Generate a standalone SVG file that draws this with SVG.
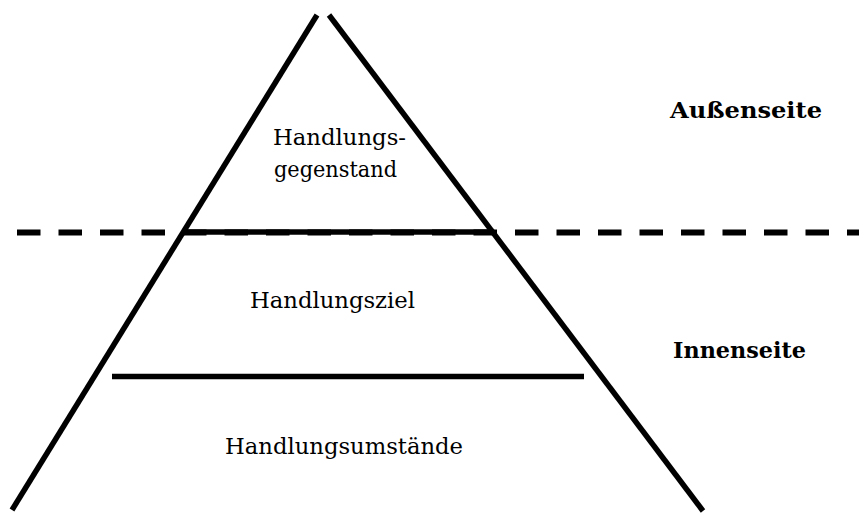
<svg xmlns="http://www.w3.org/2000/svg" width="859" height="517" viewBox="0 0 859 517">
<style>
.ln{stroke:#000;stroke-width:5.5;fill:none;stroke-linecap:butt}
.dash{stroke:#000;stroke-width:6;fill:none;stroke-dasharray:23.5 18}
.t{font-family:"DejaVu Serif","Liberation Serif",serif;font-size:22.5px;fill:#000}
.b{font-family:"DejaVu Serif","Liberation Serif",serif;font-size:22.5px;font-weight:bold;fill:#000}
</style>
<rect width="859" height="517" fill="#fff"/>
<g id="connectors">
<line class="dash" x1="17" y1="232.5" x2="859" y2="232.5"/>
<line class="ln" x1="317" y1="15" x2="12" y2="510"/>
<line class="ln" x1="329" y1="15" x2="703" y2="511"/>
<line class="ln" x1="183" y1="232" x2="493" y2="232"/>
<line class="ln" x1="112" y1="376.5" x2="584" y2="376.5"/>
</g>
<g id="node-gegenstand">
<text class="t" x="273" y="145" textLength="133" lengthAdjust="spacingAndGlyphs">Handlungs-</text>
<text class="t" x="274" y="177" textLength="123" lengthAdjust="spacingAndGlyphs">gegenstand</text>
</g>
<g id="node-ziel">
<text class="t" x="250" y="308" textLength="165" lengthAdjust="spacingAndGlyphs">Handlungsziel</text>
</g>
<g id="node-umstaende">
<text class="t" x="225" y="454" textLength="238" lengthAdjust="spacingAndGlyphs">Handlungsumstände</text>
</g>
<g id="label-aussen">
<text class="b" x="670" y="118" textLength="152" lengthAdjust="spacingAndGlyphs">Außenseite</text>
</g>
<g id="label-innen">
<text class="b" x="673" y="358" textLength="133" lengthAdjust="spacingAndGlyphs">Innenseite</text>
</g>
</svg>
